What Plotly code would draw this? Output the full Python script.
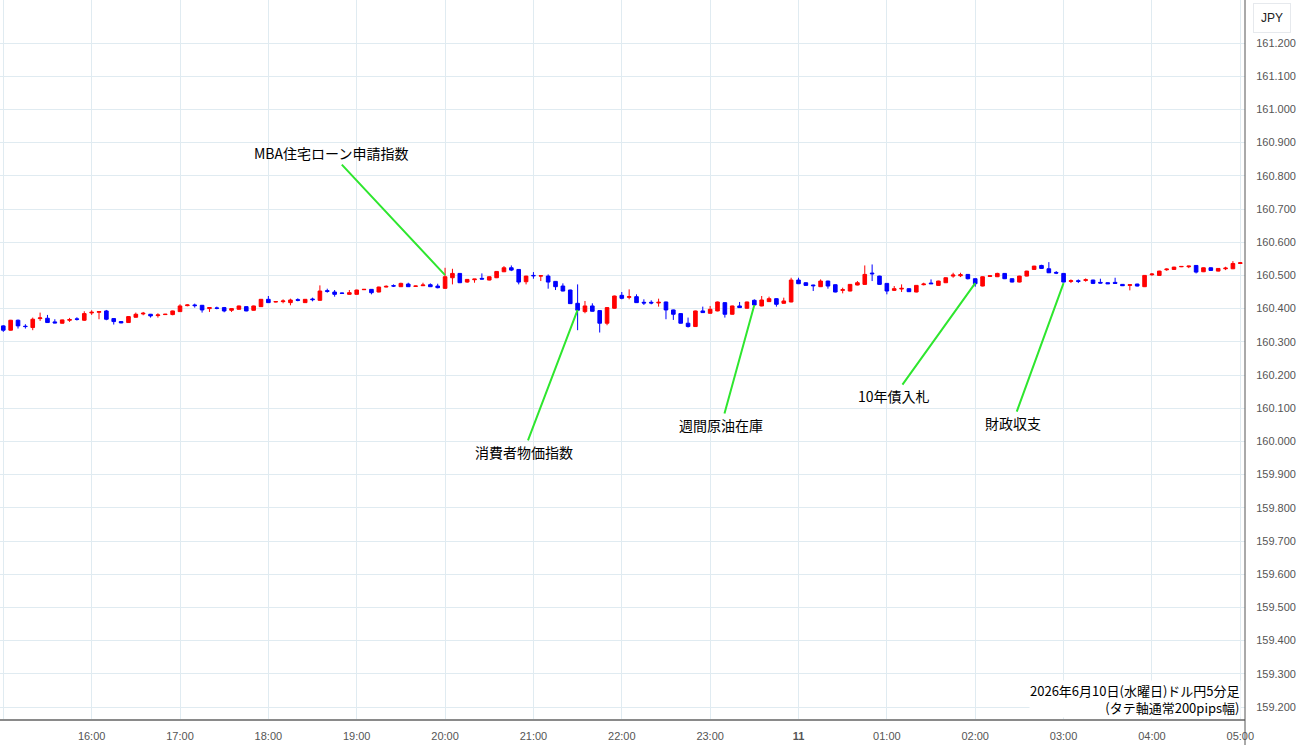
import pandas as pd
import plotly.graph_objects as go

start_time = "2026-06-10 15:00"
n_candles = 169

opens = [160.348,160.335,160.365,160.347,160.343,160.370,160.371,160.360,160.356,160.365,
         160.369,160.365,160.387,160.389,160.393,160.370,160.361,160.358,160.374,160.384,
         160.383,160.379,160.382,160.382,160.391,160.409,160.411,160.410,160.400,160.402,
         160.403,160.395,160.398,160.406,160.395,160.406,160.428,160.420,160.421,160.418,
         160.427,160.418,160.429,160.425,160.454,160.450,160.447,160.443,160.443,160.457,
         160.458,160.450,160.465,160.469,160.466,160.474,160.467,160.469,160.472,160.468,
         160.461,160.493,160.506,160.480,160.487,160.491,160.486,160.493,160.511,160.523,
         160.518,160.481,160.500,160.498,160.498,160.482,160.468,160.456,160.416,160.391,
         160.408,160.394,160.356,160.401,160.440,160.434,160.436,160.419,160.419,160.417,
         160.420,160.396,160.385,160.356,160.346,160.393,160.386,160.393,160.418,160.383,
         160.408,160.401,160.425,160.408,160.421,160.430,160.416,160.420,160.486,160.478,
         160.471,160.466,160.483,160.472,160.455,160.453,160.471,160.473,160.507,160.498,
         160.476,160.455,160.459,160.460,160.450,160.472,160.477,160.470,160.478,160.498,
         160.499,160.503,160.490,160.468,160.497,160.496,160.506,160.490,160.480,160.498,
         160.518,160.530,160.520,160.509,160.506,160.482,160.484,160.485,160.486,160.479,
         160.478,160.479,160.473,160.470,160.474,160.466,160.502,160.500,160.517,160.518,
         160.526,160.526,160.530,160.511,160.523,160.513,160.520,160.520,160.536]
highs = [160.350,160.366,160.367,160.353,160.373,160.388,160.381,160.368,160.367,160.372,
         160.374,160.392,160.395,160.392,160.396,160.371,160.362,160.377,160.388,160.390,
         160.384,160.386,160.384,160.394,160.413,160.413,160.415,160.411,160.404,160.406,
         160.405,160.401,160.409,160.407,160.409,160.429,160.438,160.422,160.428,160.430,
         160.431,160.429,160.433,160.470,160.460,160.456,160.448,160.456,160.457,160.459,
         160.459,160.466,160.470,160.473,160.478,160.478,160.469,160.478,160.476,160.475,
         160.523,160.520,160.507,160.489,160.489,160.506,160.497,160.513,160.528,160.530,
         160.519,160.499,160.510,160.500,160.503,160.483,160.476,160.457,160.473,160.423,
         160.416,160.395,160.404,160.439,160.450,160.458,160.443,160.428,160.425,160.430,
         160.421,160.397,160.386,160.373,160.394,160.406,160.408,160.421,160.419,160.409,
         160.420,160.421,160.428,160.438,160.436,160.431,160.433,160.493,160.493,160.479,
         160.472,160.488,160.484,160.473,160.463,160.474,160.483,160.530,160.533,160.499,
         160.477,160.468,160.473,160.461,160.471,160.478,160.488,160.484,160.494,160.508,
         160.508,160.504,160.491,160.497,160.500,160.508,160.507,160.491,160.499,160.514,
         160.529,160.532,160.540,160.513,160.507,160.488,160.488,160.491,160.487,160.490,
         160.479,160.493,160.474,160.473,160.475,160.501,160.507,160.514,160.521,160.526,
         160.528,160.529,160.531,160.524,160.524,160.522,160.526,160.543,160.540]
lows = [160.330,160.334,160.340,160.340,160.335,160.363,160.357,160.356,160.355,160.360,
        160.364,160.363,160.381,160.368,160.365,160.352,160.356,160.357,160.373,160.380,
        160.373,160.373,160.381,160.380,160.390,160.407,160.403,160.388,160.390,160.398,
        160.389,160.390,160.397,160.392,160.394,160.405,160.417,160.419,160.416,160.410,
        160.422,160.417,160.422,160.424,160.448,160.436,160.445,160.442,160.442,160.456,
        160.443,160.449,160.464,160.465,160.465,160.465,160.466,160.468,160.465,160.461,
        160.460,160.473,160.477,160.478,160.478,160.488,160.485,160.492,160.510,160.513,
        160.473,160.473,160.490,160.483,160.460,160.456,160.452,160.414,160.335,160.386,
        160.391,160.328,160.350,160.400,160.428,160.428,160.417,160.411,160.413,160.406,
        160.368,160.366,160.355,160.343,160.345,160.387,160.385,160.392,160.373,160.382,
        160.402,160.400,160.410,160.407,160.420,160.406,160.415,160.419,160.474,160.469,
        160.453,160.465,160.460,160.449,160.446,160.452,160.470,160.472,160.483,160.472,
        160.443,160.453,160.450,160.450,160.449,160.470,160.474,160.469,160.477,160.493,
        160.495,160.488,160.466,160.467,160.496,160.495,160.489,160.479,160.479,160.497,
        160.517,160.520,160.507,160.504,160.479,160.477,160.477,160.481,160.474,160.476,
        160.474,160.475,160.468,160.455,160.467,160.465,160.499,160.499,160.514,160.517,
        160.525,160.522,160.506,160.510,160.514,160.512,160.516,160.519,160.535]
closes = [160.335,160.365,160.348,160.346,160.368,160.372,160.358,160.357,160.366,160.367,
          160.368,160.385,160.389,160.391,160.368,160.361,160.357,160.376,160.383,160.386,
          160.378,160.381,160.383,160.393,160.408,160.411,160.409,160.396,160.403,160.401,
          160.393,160.400,160.408,160.393,160.408,160.428,160.418,160.421,160.423,160.426,
          160.425,160.428,160.427,160.453,160.452,160.443,160.446,160.448,160.456,160.458,
          160.448,160.465,160.467,160.468,160.476,160.466,160.468,160.471,160.466,160.463,
          160.496,160.506,160.478,160.488,160.489,160.489,160.496,160.512,160.523,160.516,
          160.480,160.498,160.499,160.499,160.480,160.466,160.453,160.415,160.395,160.408,
          160.392,160.356,160.403,160.438,160.431,160.436,160.418,160.417,160.417,160.419,
          160.396,160.383,160.356,160.346,160.393,160.388,160.398,160.420,160.383,160.408,
          160.403,160.420,160.411,160.426,160.430,160.413,160.423,160.486,160.475,160.470,
          160.469,160.483,160.468,160.450,160.457,160.473,160.478,160.503,160.505,160.473,
          160.453,160.460,160.461,160.451,160.470,160.474,160.475,160.483,160.493,160.501,
          160.502,160.490,160.475,160.496,160.499,160.506,160.490,160.480,160.498,160.513,
          160.528,160.521,160.508,160.507,160.480,160.484,160.482,160.487,160.476,160.477,
          160.475,160.476,160.469,160.472,160.468,160.500,160.504,160.513,160.519,160.525,
          160.527,160.528,160.510,160.523,160.515,160.521,160.522,160.536,160.538]

hour_ticks = pd.date_range("2026-06-10 15:00", "2026-06-11 05:00", freq="1h")
hour_labels = ["15:00","16:00","17:00","18:00","19:00","20:00","21:00","22:00","23:00",
               "<b>11</b>","01:00","02:00","03:00","04:00","05:00"]
price_ticks = [round(159.2 + 0.1 * k, 1) for k in range(21)]
price_labels = [f"{p:.3f}" for p in price_ticks]

event_labels = ["MBA住宅ローン申請指数", "消費者物価指数", "週間原油在庫", "10年債入札", "財政収支"]
event_times = ["2026-06-10 20:00", "2026-06-10 21:30", "2026-06-10 23:30",
               "2026-06-11 02:00", "2026-06-11 03:00"]
event_prices = [160.501, 160.396, 160.411, 160.477, 160.477]
event_offsets = [(-114, -122), (-54, 142), (-33, 120), (-81, 113), (-51, 140)]

title_lines = ["2026年6月10日(水曜日)ドル円5分足", "(タテ軸通常200pips幅)"]

times = pd.date_range(start_time, periods=n_candles, freq="5min")

fig = go.Figure()
fig.add_trace(go.Candlestick(
    x=times, open=opens, high=highs, low=lows, close=closes,
    increasing=dict(line=dict(color="#ff0000", width=1), fillcolor="#ff0000"),
    decreasing=dict(line=dict(color="#0000ff", width=1), fillcolor="#0000ff"),
    whiskerwidth=0, showlegend=False, hoverinfo="skip",
))

cjk = "Noto Sans CJK JP"
anns = []
for lab, t, p, (ax, ay) in zip(event_labels, event_times, event_prices, event_offsets):
    anns.append(dict(x=t, y=p, xref="x", yref="y", text=lab, showarrow=True,
                     ax=ax, ay=ay, arrowhead=0, arrowwidth=2, arrowcolor="#2ee62e",
                     standoff=0, startstandoff=0,
                     font=dict(family=cjk, size=14, color="#000000")))
anns.append(dict(x=1241/1245, y=1-699/719, xref="paper", yref="paper",
                 text="<br>".join(title_lines), align="right",
                 showarrow=False, xanchor="right", yanchor="middle", bgcolor="#ffffff",
                 borderpad=0, font=dict(family=cjk, size=13, color="#000000")))
anns.append(dict(x=1272/1245, y=1-18/719, xref="paper", yref="paper", text="JPY",
                 showarrow=False, xanchor="center", yanchor="middle",
                 bordercolor="#e6e9ed", borderwidth=1, borderpad=7, bgcolor="#ffffff",
                 font=dict(family="Liberation Sans", size=12, color="#222222")))

fig.update_layout(
    width=1300, height=745,
    margin=dict(l=0, r=55, t=0, b=26),
    paper_bgcolor="#ffffff", plot_bgcolor="#ffffff",
    showlegend=False,
    annotations=anns,
    shapes=[dict(type="line", xref="paper", yref="paper", x0=1, x1=1, y0=-0.05, y1=1,
                 line=dict(color="#555555", width=1))],
    xaxis=dict(
        type="date",
        range=["2026-06-10 14:57:46", "2026-06-11 05:03:12"],
        tickvals=list(hour_ticks), ticktext=hour_labels,
        showgrid=True, gridcolor="#e0ebf1", gridwidth=1,
        showline=True, linecolor="#8a8a8a", linewidth=2,
        ticks="outside", ticklen=6, tickcolor="rgba(0,0,0,0)",
        tickfont=dict(family="Liberation Sans", size=11, color="#555555"),
        rangeslider=dict(visible=False), zeroline=False, fixedrange=True,
    ),
    yaxis=dict(
        side="right",
        range=[159.164, 161.3295],
        tickvals=price_ticks, ticktext=price_labels,
        showgrid=True, gridcolor="#e0ebf1", gridwidth=1,
        showline=False,
        ticks="outside", ticklen=8, tickcolor="rgba(0,0,0,0)",
        tickfont=dict(family="Liberation Sans", size=11, color="#555555"),
        zeroline=False, fixedrange=True,
    ),
)

fig.write_html("out.html")
